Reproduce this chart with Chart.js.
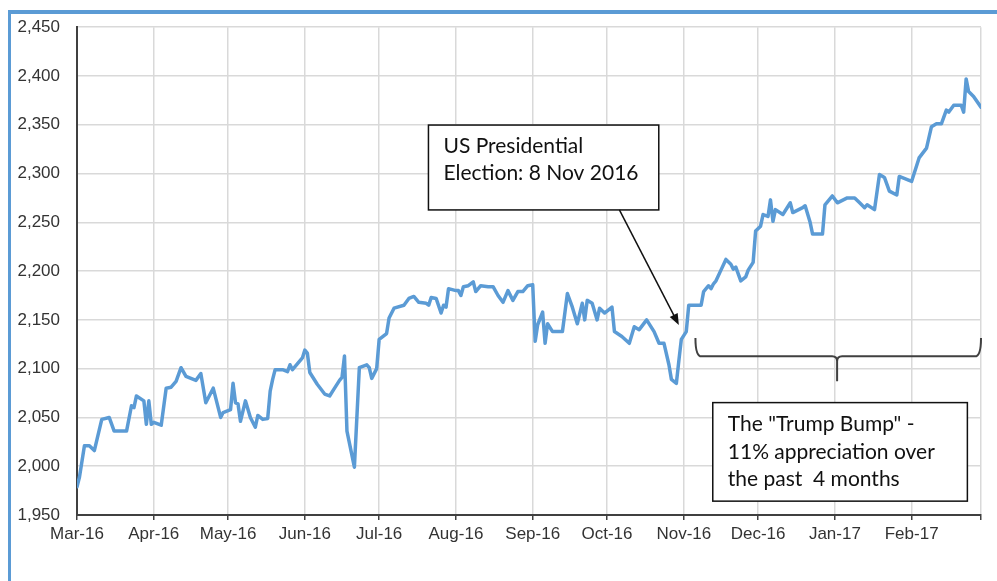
<!DOCTYPE html>
<html>
<head>
<meta charset="utf-8">
<script src="https://cdn.jsdelivr.net/npm/chart.js@4/dist/chart.umd.min.js"></script>
<style>
  html, body { margin: 0; padding: 0; background: #fff; }
  #wrap { position: relative; width: 997px; height: 581px; overflow: hidden; }
  #frame {
    position: absolute; left: 8px; top: 10px; right: -10px; bottom: -10px;
    border-left: 3px solid #5b9bd5; border-top: 4px solid #5b9bd5;
  }
  #chart { position: absolute; left: 0; top: 0; }
</style>
</head>
<body>
<div id="wrap">
  <div id="frame"></div>
  <canvas id="chart" width="997" height="581"></canvas>
</div>
<script>
// Índice diário (fechamentos lidos por data)
const dates = [
  '2016-03-01','2016-03-02','2016-03-04','2016-03-06','2016-03-08','2016-03-11','2016-03-14','2016-03-16',
  '2016-03-21','2016-03-23','2016-03-24','2016-03-25','2016-03-28','2016-03-29','2016-03-30','2016-03-31',
  '2016-04-01','2016-04-04','2016-04-06','2016-04-08','2016-04-10','2016-04-12','2016-04-14','2016-04-18',
  '2016-04-20','2016-04-22','2016-04-25','2016-04-28','2016-04-29','2016-05-02','2016-05-03','2016-05-04',
  '2016-05-05','2016-05-06','2016-05-08','2016-05-10','2016-05-12','2016-05-13','2016-05-15','2016-05-17',
  '2016-05-18','2016-05-19','2016-05-20','2016-05-23','2016-05-25','2016-05-26','2016-05-27','2016-05-31',
  '2016-06-01','2016-06-02','2016-06-03','2016-06-06','2016-06-09','2016-06-11','2016-06-13','2016-06-15',
  '2016-06-16','2016-06-17','2016-06-18','2016-06-21','2016-06-23','2016-06-26','2016-06-27','2016-06-28',
  '2016-06-30','2016-07-01','2016-07-04','2016-07-05','2016-07-07','2016-07-11','2016-07-13','2016-07-15',
  '2016-07-17','2016-07-20','2016-07-21','2016-07-22','2016-07-24','2016-07-26','2016-07-27','2016-07-28',
  '2016-07-29','2016-08-01','2016-08-02','2016-08-03','2016-08-04','2016-08-06','2016-08-08','2016-08-09',
  '2016-08-11','2016-08-14','2016-08-16','2016-08-18','2016-08-20','2016-08-22','2016-08-24','2016-08-26',
  '2016-08-28','2016-08-30','2016-09-01','2016-09-02','2016-09-03','2016-09-05','2016-09-06','2016-09-07',
  '2016-09-09','2016-09-13','2016-09-15','2016-09-17','2016-09-19','2016-09-21','2016-09-22','2016-09-23',
  '2016-09-25','2016-09-27','2016-09-28','2016-09-30','2016-10-03','2016-10-04','2016-10-07','2016-10-10',
  '2016-10-12','2016-10-14','2016-10-17','2016-10-20','2016-10-22','2016-10-24','2016-10-26','2016-10-27',
  '2016-10-29','2016-10-30','2016-10-31','2016-11-02','2016-11-03','2016-11-08','2016-11-09','2016-11-10',
  '2016-11-11','2016-11-12','2016-11-13','2016-11-14','2016-11-16','2016-11-18','2016-11-20','2016-11-21',
  '2016-11-22','2016-11-24','2016-11-26','2016-11-27','2016-11-29','2016-11-30','2016-12-02','2016-12-03',
  '2016-12-05','2016-12-06','2016-12-07','2016-12-08','2016-12-11','2016-12-14','2016-12-15','2016-12-19',
  '2016-12-20','2016-12-22','2016-12-23','2016-12-27','2016-12-28','2016-12-31','2017-01-02','2017-01-06',
  '2017-01-09','2017-01-11','2017-01-13','2017-01-14','2017-01-17','2017-01-19','2017-01-21','2017-01-23',
  '2017-01-26','2017-01-27','2017-02-01','2017-02-04','2017-02-07','2017-02-09','2017-02-11','2017-02-13',
  '2017-02-15','2017-02-16','2017-02-18','2017-02-21','2017-02-22','2017-02-23','2017-02-24','2017-02-26',
  '2017-03-01'
];
const closes = [
  1979,1989,2021,2021,2016,2048,2050,2036,
  2036,2062,2060,2072,2067,2043,2067,2043,
  2045,2042,2080,2081,2087,2101,2092,2088,
  2095,2065,2080,2050,2055,2058,2085,2065,
  2064,2046,2067,2050,2040,2052,2048,2049,
  2077,2089,2099,2099,2097,2104,2099,2111,
  2119,2116,2096,2084,2074,2072,2080,2088,
  2091,2113,2036,1999,2101,2104,2101,2090,
  2100,2130,2136,2152,2162,2165,2172,2174,
  2168,2167,2165,2173,2172,2157,2165,2163,
  2182,2180,2180,2175,2184,2185,2189,2179,
  2185,2184,2184,2175,2168,2180,2170,2179,
  2179,2185,2186,2128,2145,2158,2126,2146,
  2138,2138,2177,2163,2146,2167,2150,2170,
  2167,2150,2162,2157,2163,2138,2133,2126,
  2143,2140,2150,2138,2126,2126,2104,2089,
  2085,2108,2130,2138,2165,2165,2179,2182,
  2185,2182,2187,2190,2201,2212,2207,2202,
  2204,2190,2194,2201,2209,2241,2246,2258,
  2256,2273,2251,2263,2258,2270,2260,2265,
  2267,2250,2238,2238,2268,2277,2270,2275,
  2275,2270,2265,2268,2263,2299,2296,2282,
  2278,2297,2292,2316,2326,2348,2351,2351,
  2365,2363,2370,2370,2363,2397,2384,2379,
  2368
];

// Eixo X: inícios de mês
const monthTicks = [
  '2016-03-01','2016-04-01','2016-05-01','2016-06-01','2016-07-01','2016-08-01','2016-09-01',
  '2016-10-01','2016-11-01','2016-12-01','2017-01-01','2017-02-01','2017-03-01'
];
const tickLabels = [
  'Mar-16','Apr-16','May-16','Jun-16','Jul-16','Aug-16','Sep-16',
  'Oct-16','Nov-16','Dec-16','Jan-17','Feb-17',''
];

// Eixo Y
const yMin = 1950;
const yMax = 2450;
const yStep = 50;

// dias desde 1 de março de 2016
const origem = Date.UTC(2016, 2, 1);
function diaDe(s) {
  const [a, m, d] = s.split('-').map(Number);
  return (Date.UTC(a, m - 1, d) - origem) / 86400000;
}

const pontos = dates.map((d, i) => ({ x: diaDe(d), y: closes[i] }));
const posTicks = monthTicks.map(diaDe);

// Caixas de texto, seta e chave (em dias / pontos do índice)
const notaEleicao = {
  linhas: ['US Presidential', 'Election: 8 Nov 2016'],
  x0: 141.9, x1: 234.9, y0: 2349.7, y1: 2262.7
};
const seta = { x0: 219, y0: 2262.7, x1: 243, y1: 2144.8 };
const chave = { x0: 249.7, x1: 365, meio: 306.9, topo: 2131.5, base: 2112.6, ponta: 2087.2 };
const notaAlta = {
  linhas: ['The "Trump Bump" -', '11% appreciation over', 'the past  4 months'],
  x0: 256.7, x1: 359.5, y0: 2065.2, y1: 1964.2
};

function caixa(ctx, sx, sy, nota, baselines) {
  const l = sx.getPixelForValue(nota.x0), r = sx.getPixelForValue(nota.x1);
  const t = sy.getPixelForValue(nota.y0), b = sy.getPixelForValue(nota.y1);
  ctx.fillStyle = '#fff';
  ctx.fillRect(l, t, r - l, b - t);
  ctx.strokeStyle = '#111';
  ctx.lineWidth = 1.5;
  ctx.strokeRect(l, t, r - l, b - t);
  ctx.fillStyle = '#111';
  ctx.font = '21px Lato';
  ctx.textBaseline = 'alphabetic';
  nota.linhas.forEach((txt, i) => ctx.fillText(txt, l + 15, t + baselines[i]));
}

const anotacoes = {
  id: 'anotacoes',
  afterDatasetsDraw(chart) {
    const { ctx } = chart;
    const sx = chart.scales.x, sy = chart.scales.y;
    ctx.save();

    caixa(ctx, sx, sy, notaEleicao, [28, 55]);

    // seta até o dia da eleição
    const ax0 = sx.getPixelForValue(seta.x0), ay0 = sy.getPixelForValue(seta.y0);
    const ax1 = sx.getPixelForValue(seta.x1), ay1 = sy.getPixelForValue(seta.y1);
    const ang = Math.atan2(ay1 - ay0, ax1 - ax0);
    ctx.strokeStyle = '#111';
    ctx.lineWidth = 1.5;
    ctx.beginPath();
    ctx.moveTo(ax0, ay0);
    ctx.lineTo(ax1 - 8 * Math.cos(ang), ay1 - 8 * Math.sin(ang));
    ctx.stroke();
    ctx.fillStyle = '#111';
    ctx.beginPath();
    ctx.moveTo(ax1, ay1);
    ctx.lineTo(ax1 - 12 * Math.cos(ang - 0.38), ay1 - 12 * Math.sin(ang - 0.38));
    ctx.lineTo(ax1 - 12 * Math.cos(ang + 0.38), ay1 - 12 * Math.sin(ang + 0.38));
    ctx.closePath();
    ctx.fill();

    // chave sobre o período pós-eleição
    const bl = sx.getPixelForValue(chave.x0), br = sx.getPixelForValue(chave.x1);
    const bm = sx.getPixelForValue(chave.meio);
    const bt = sy.getPixelForValue(chave.topo), bb = sy.getPixelForValue(chave.base);
    const bp = sy.getPixelForValue(chave.ponta);
    ctx.strokeStyle = '#404040';
    ctx.lineWidth = 2;
    ctx.beginPath();
    ctx.moveTo(bl, bt);
    ctx.quadraticCurveTo(bl, bb, bl + 6, bb);
    ctx.lineTo(bm - 5, bb);
    ctx.quadraticCurveTo(bm, bb, bm, bb + 5);
    ctx.lineTo(bm, bp);
    ctx.moveTo(bm, bb + 5);
    ctx.quadraticCurveTo(bm, bb, bm + 5, bb);
    ctx.lineTo(br - 6, bb);
    ctx.quadraticCurveTo(br, bb, br, bt);
    ctx.stroke();

    caixa(ctx, sx, sy, notaAlta, [28, 56, 83]);
    ctx.restore();
  }
};

const fonteEixo = { family: '"Liberation Sans", Arial, sans-serif', size: 17 };

new Chart(document.getElementById('chart'), {
  type: 'line',
  data: {
    datasets: [{
      data: pontos,
      borderColor: '#5b9bd5',
      borderWidth: 3.5,
      borderJoinStyle: 'round',
      borderCapStyle: 'round',
      pointRadius: 0,
      tension: 0,
      fill: false
    }]
  },
  options: {
    responsive: false,
    animation: false,
    layout: { padding: { left: 0, top: 23, right: 16, bottom: 0 } },
    plugins: {
      legend: { display: false },
      tooltip: { enabled: false }
    },
    scales: {
      x: {
        type: 'linear',
        min: posTicks[0],
        max: posTicks[posTicks.length - 1],
        afterBuildTicks: s => { s.ticks = posTicks.map(v => ({ value: v })); },
        afterFit: s => { s.height = 66; },
        grid: { color: '#d9d9d9', lineWidth: 1.5, tickColor: '#404040', tickLength: 5, tickWidth: 1.5 },
        border: { color: '#404040', width: 2 },
        ticks: {
          autoSkip: false,
          maxRotation: 0,
          padding: 4,
          color: '#333',
          font: fonteEixo,
          callback: (v, i) => tickLabels[i]
        }
      },
      y: {
        min: yMin,
        max: yMax,
        afterFit: s => { s.width = 77; },
        grid: { color: '#d9d9d9', lineWidth: 1.5, drawTicks: false },
        border: { color: '#404040', width: 2 },
        ticks: {
          stepSize: yStep,
          padding: 17,
          color: '#333',
          font: fonteEixo,
          callback: v => v.toLocaleString('en-US')
        }
      }
    }
  },
  plugins: [anotacoes]
});
</script>
</body>
</html>
